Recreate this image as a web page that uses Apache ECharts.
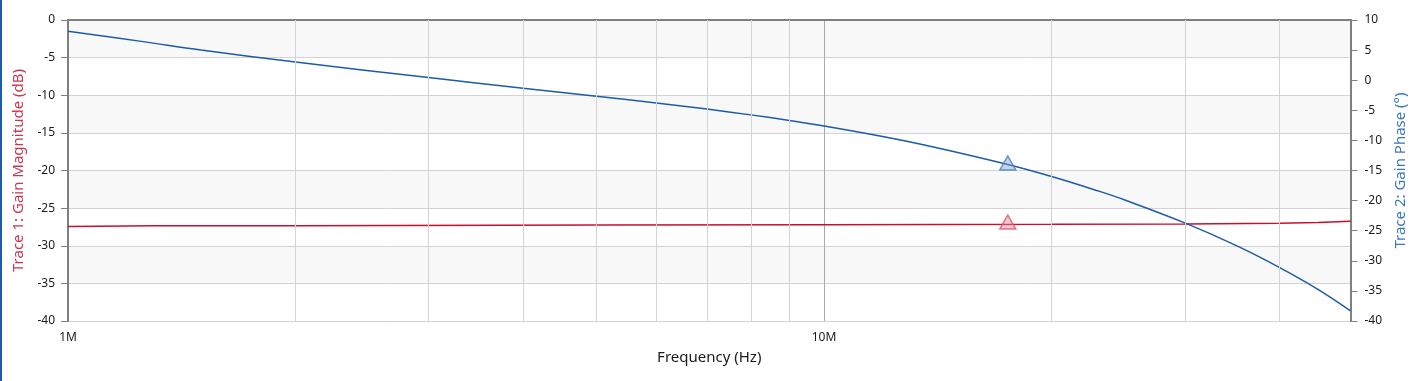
<!DOCTYPE html>
<html><head><meta charset="utf-8">
<script src="https://cdn.jsdelivr.net/npm/echarts@6/dist/echarts.min.js"></script>
<style>html,body{margin:0;padding:0;background:#fff}#c{width:1416px;height:381px}</style>
</head><body><div id="c"></div>
<script>
// Phase trace (Trace 2)
const phaseFreqHz = [1e6,1.25e6,1.5e6,2e6,3e6,4e6,5e6,6e6,7e6,8e6,9e6,10e6,12e6,14e6,17.5e6,20e6,23e6,25e6,30e6,35e6,40e6,45e6,49.7e6];
const phaseDeg    = [8.12,6.45,5.02,3.01,0.44,-1.33,-2.65,-3.77,-4.79,-5.76,-6.68,-7.6,-9.39,-11.13,-14.0,-16.0,-18.36,-19.9,-23.7,-27.4,-31.08,-34.73,-38.3];
// Magnitude trace (Trace 1)
const magFreqHz = [1e6,1.3e6,2e6,5e6,10e6,20e6,30e6,40e6,45e6,49.7e6];
const magDb     = [-27.45,-27.35,-27.33,-27.25,-27.2,-27.15,-27.1,-27.0,-26.9,-26.75];
// Markers
const markerFreqHz = 17.5e6;
const markerMagDb = -26.85;
const markerPhaseDeg = -13.75;
// Axis settings
const xMinHz = 1e6, xMaxHz = 4.97e7;
const minorGridHz = [2e6,3e6,4e6,5e6,6e6,7e6,8e6,9e6,2e7,3e7,4e7];
const xLabels = {1000000:'1M', 10000000:'10M'};
const leftMin = -40, leftMax = 0, rightMin = -40, rightMax = 10, yStep = 5;

const font = 'Noto Sans';
const chart = echarts.init(document.getElementById('c'), null, {renderer:'canvas'});
const option = {
  animation:false,
  backgroundColor:'#ffffff',
  textStyle:{fontFamily:font},
  graphic:[{type:'rect', left:0, top:0, shape:{width:2, height:381}, style:{fill:'#1e5ca3'}, z:100}],
  grid:{left:68, right:63, top:20, bottom:60, show:true, borderColor:'#000', borderWidth:1.5, backgroundColor:'transparent'},
  xAxis:{
    type:'log', logBase:10, min:xMinHz, max:xMaxHz,
    name:'Frequency (Hz)', nameLocation:'middle', nameGap:29,
    nameTextStyle:{color:'#1a1a1a', fontSize:15, fontFamily:font},
    axisLine:{show:true, lineStyle:{color:'#7f7f7f', width:2}},
    axisTick:{show:false},
    axisLabel:{color:'#1a1a1a', fontSize:12, margin:11, fontFamily:font, showMaxLabel:false,
      formatter:v=>xLabels[Math.round(v)]||''},
    splitLine:{show:true, lineStyle:{color:'#a9a9a9', width:1}}
  },
  yAxis:[{
    type:'value', min:leftMin, max:leftMax, interval:yStep, position:'left',
    name:'Trace 1: Gain Magnitude (dB)', nameLocation:'middle', nameGap:41, nameRotate:90,
    nameTextStyle:{color:'#c8374f', fontSize:15, fontFamily:font},
    axisLine:{show:true, lineStyle:{color:'#7f7f7f', width:2}},
    axisTick:{show:true, length:7, lineStyle:{color:'#7f7f7f'}},
    axisLabel:{color:'#1a1a1a', fontSize:12, margin:13, fontFamily:font},
    splitLine:{show:true, lineStyle:{color:'#d3d3d3', width:1}},
    splitArea:{show:true, areaStyle:{color:['#ffffff','#f8f8f8']}}
  },{
    type:'value', min:rightMin, max:rightMax, interval:yStep, position:'right',
    name:'Trace 2: Gain Phase (°)', nameLocation:'middle', nameGap:40, nameRotate:90,
    nameTextStyle:{color:'#3b78bd', fontSize:15, fontFamily:font},
    axisLine:{show:true, lineStyle:{color:'#7f7f7f', width:2}},
    axisTick:{show:true, length:7, lineStyle:{color:'#7f7f7f'}},
    axisLabel:{color:'#1a1a1a', fontSize:12, margin:14, fontFamily:font},
    splitLine:{show:false}
  }],
  series:[
    {type:'line', name:'grid', data:[], z:1, silent:true,
     markLine:{silent:true, symbol:'none', label:{show:false}, animation:false,
       lineStyle:{color:'#d3d3d3', width:1, type:'solid'},
       data:minorGridHz.map(f=>({xAxis:f}))}},
    {type:'line', name:'Gain Magnitude', yAxisIndex:0, showSymbol:false, z:3,
     data:magFreqHz.map((f,i)=>[f,magDb[i]]),
     lineStyle:{color:'#c8102e', width:1.5}},
    {type:'line', name:'Gain Phase', yAxisIndex:1, showSymbol:false, smooth:0.4, z:3,
     data:phaseFreqHz.map((f,i)=>[f,phaseDeg[i]]),
     lineStyle:{color:'#1b5ca5', width:1.5}},
    {type:'scatter', yAxisIndex:0, z:5, symbol:'triangle', symbolSize:[16,14],
     data:[[markerFreqHz, markerMagDb]],
     itemStyle:{color:'rgba(235,130,150,0.55)', borderColor:'#d45670', borderWidth:1.5}},
    {type:'scatter', yAxisIndex:1, z:5, symbol:'triangle', symbolSize:[16,14],
     data:[[markerFreqHz, markerPhaseDeg]],
     itemStyle:{color:'rgba(120,160,210,0.55)', borderColor:'#4a7db8', borderWidth:1.5}}
  ]
};
chart.setOption(option);
</script></body></html>
